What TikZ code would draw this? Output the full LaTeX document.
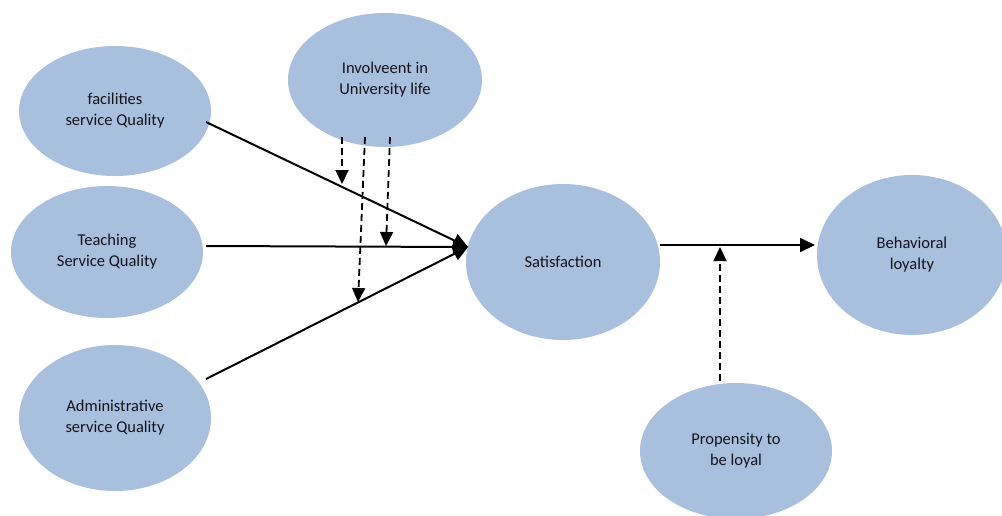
\documentclass[tikz,border=0pt]{standalone}
\usepackage{fontspec}
\setmainfont{Carlito}
\usetikzlibrary{shapes.geometric,arrows.meta}
\definecolor{bubble}{RGB}{168,192,222}
\definecolor{ink}{RGB}{20,20,26}
\tikzset{
  construct/.style={ellipse, fill=bubble, draw=none, inner sep=0pt,
    align=center, text=ink, font=\fontsize{16.5}{21}\selectfont},
  path/.style={line width=2pt, -{Triangle[length=15pt,width=14pt]}},
  moderate/.style={line width=1.8pt, dash pattern=on 7pt off 4pt,
    -{Triangle[length=14pt,width=13pt]}}
}
\begin{document}
\begin{tikzpicture}[x=1pt,y=-1pt]
\useasboundingbox (0,0) rectangle (1002,515);

% latent constructs
\node[construct, minimum width=192pt, minimum height=130pt] (fac) at (115,111) {facilities\\service Quality};
\node[construct, minimum width=192pt, minimum height=132pt] (teach) at (107,252) {Teaching\\Service Quality};
\node[construct, minimum width=192pt, minimum height=146pt] (adm) at (115,418) {Administrative\\service Quality};
\node[construct, minimum width=194pt, minimum height=134pt] (inv) at (385,80) {Involveent in\\University life};
\node[construct, minimum width=194pt, minimum height=156pt] (sat) at (563,262) {Satisfaction};
\node[construct, minimum width=190pt, minimum height=160pt] (beh) at (912,255) {Behavioral\\loyalty};
\node[construct, minimum width=192pt, minimum height=136pt] (prop) at (736,451) {Propensity to\\be loyal};

% junction points on the structural paths
\coordinate (hub) at (468,247);
\coordinate (facA) at (206,122);
\coordinate (teachA) at (206,246);
\coordinate (admA) at (206,379);
\coordinate (satA) at (660,245);
\coordinate (behA) at (815,245);

% moderator start and end points
\coordinate (i1) at (342,137);
\coordinate (i2) at (365,137);
\coordinate (i3) at (390,137);
\coordinate (m1) at (342,184);
\coordinate (m2) at (358,302);
\coordinate (m3) at (386,246);
\coordinate (p0) at (720,381);
\coordinate (p1) at (720,247);

% structural paths
\draw[path] (facA) -- (hub);
\draw[path] (teachA) -- (hub);
\draw[path] (admA) -- (hub);
\draw[path] (satA) -- (behA);

% moderating effects
\draw[moderate] (i1) -- (m1);
\draw[moderate] (i2) -- (m2);
\draw[moderate] (i3) -- (m3);
\draw[moderate] (p0) -- (p1);
\end{tikzpicture}
\end{document}
